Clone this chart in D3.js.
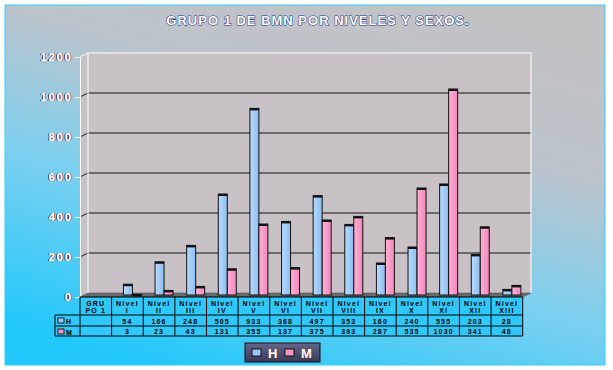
<!DOCTYPE html>
<html>
<head>
<meta charset="utf-8">
<script src="https://cdn.jsdelivr.net/npm/d3@7"></script>
<style>
  body { margin: 0; background: #fff; }
  svg { display: block; font-family: Arial, "Liberation Sans", sans-serif; }
</style>
</head>
<body>
<svg id="chart" width="613" height="370"></svg>
<script>
// Chart data
const categories = ["GRUPO 1", "Nivel I", "Nivel II", "Nivel III", "Nivel IV", "Nivel V", "Nivel VI",
  "Nivel VII", "Nivel VIII", "Nivel IX", "Nivel X", "Nivel XI", "Nivel XII", "Nivel XIII"];
const headerLines = [["GRU", "PO 1"], ["Nivel", "I"], ["Nivel", "II"], ["Nivel", "III"], ["Nivel", "IV"],
  ["Nivel", "V"], ["Nivel", "VI"], ["Nivel", "VII"], ["Nivel", "VIII"], ["Nivel", "IX"], ["Nivel", "X"],
  ["Nivel", "XI"], ["Nivel", "XII"], ["Nivel", "XIII"]];
const hValues = [null, 54, 166, 248, 505, 933, 368, 497, 353, 160, 240, 555, 203, 28];
const mValues = [null, 3, 23, 43, 131, 355, 137, 375, 393, 287, 535, 1030, 341, 48];
const yTicks = [0, 200, 400, 600, 800, 1000, 1200];
const seriesNames = ["H", "M"];
const title = "GRUPO 1 DE BMN POR NIVELES Y SEXOS.";

const colH = "#9cc8f6", colM = "#f896c6";

const svg = d3.select("#chart");
const defs = svg.append("defs");

// Background gradient (grey top-right to cyan bottom-left)
const bg = defs.append("linearGradient").attr("id", "bg")
  .attr("x1", "0.75").attr("y1", "0").attr("x2", "0.25").attr("y2", "1");
bg.append("stop").attr("offset", "0").attr("stop-color", "#c2c2c4");
bg.append("stop").attr("offset", "0.3").attr("stop-color", "#bcc4cc");
bg.append("stop").attr("offset", "0.62").attr("stop-color", "#7cd0f0");
bg.append("stop").attr("offset", "1").attr("stop-color", "#22c8fa");

const gH = defs.append("linearGradient").attr("id", "gH");
gH.append("stop").attr("offset", "0").attr("stop-color", "#b8dcff");
gH.append("stop").attr("offset", "1").attr("stop-color", "#8ebcee");
const gM = defs.append("linearGradient").attr("id", "gM");
gM.append("stop").attr("offset", "0").attr("stop-color", "#ffb0d6");
gM.append("stop").attr("offset", "1").attr("stop-color", "#f088ba");
const gL = defs.append("linearGradient").attr("id", "gL").attr("x2", "0").attr("y2", "1");
gL.append("stop").attr("offset", "0").attr("stop-color", "#66668c");
gL.append("stop").attr("offset", "1").attr("stop-color", "#383858");

// Two-coloured edge shadow for axis labels (blue left, orange right)
const sh = defs.append("filter").attr("id", "edge")
  .attr("x", "-10%").attr("y", "-10%").attr("width", "120%").attr("height", "120%");
sh.append("feFlood").attr("flood-color", "#2a3c9a").attr("result", "blue");
sh.append("feOffset").attr("in", "SourceAlpha").attr("dx", -1).attr("result", "offL");
sh.append("feComposite").attr("in", "blue").attr("in2", "offL").attr("operator", "in").attr("result", "shL");
sh.append("feFlood").attr("flood-color", "#d86a28").attr("result", "orange");
sh.append("feOffset").attr("in", "SourceAlpha").attr("dx", 1).attr("result", "offR");
sh.append("feComposite").attr("in", "orange").attr("in2", "offR").attr("operator", "in").attr("result", "shR");
const mg = sh.append("feMerge");
mg.append("feMergeNode").attr("in", "shL");
mg.append("feMergeNode").attr("in", "shR");
mg.append("feMergeNode").attr("in", "SourceGraphic");

svg.append("rect")
  .attr("x", 5).attr("y", 5).attr("width", 600).attr("height", 360)
  .attr("fill", "url(#bg)").attr("stroke", "#30d0ff").attr("stroke-width", 1);

// Title
svg.append("text")
  .attr("x", 318).attr("y", 25)
  .attr("text-anchor", "middle")
  .attr("font-size", 13).attr("font-weight", "bold")
  .attr("letter-spacing", 1)
  .attr("fill", "#fff").attr("stroke", "#24348a").attr("stroke-width", 1.1)
  .attr("paint-order", "stroke")
  .text(title);

// Scales
const x = d3.scaleBand().domain(categories).range([80, 522.7]).padding(0);
const y = d3.scaleLinear().domain([0, 1200]).range([297, 57]);

const dx = 8, dy = -4;       // wall depth offset
const bx = 5, by = -2;       // bar depth offset
const wallRight = 531;

// Back wall and side wall
svg.append("polygon")
  .attr("points", [[80, y(0)], [80, y(1200)], [80 + dx, y(1200) + dy], [wallRight, y(1200) + dy],
    [wallRight, y(0) + dy], [80 + dx, y(0) + dy]].join(" "))
  .attr("fill", "#c8c2c6");

// Floor
svg.append("polygon")
  .attr("points", [[80, y(0)], [522.7, y(0)], [wallRight, y(0) + dy], [80 + dx, y(0) + dy]].join(" "))
  .attr("fill", "#6a6a6a").attr("stroke", "#444").attr("stroke-width", 0.5);

// Gridlines
const grid = svg.append("g");
yTicks.filter(t => t > 0 && t < 1200).forEach(t => {
  grid.append("line")
    .attr("x1", 80 + dx).attr("x2", wallRight)
    .attr("y1", y(t) + dy).attr("y2", y(t) + dy)
    .attr("stroke", "#111").attr("stroke-width", 1);
  grid.append("line")
    .attr("x1", 80).attr("x2", 80 + dx)
    .attr("y1", y(t)).attr("y2", y(t) + dy)
    .attr("stroke", "#222").attr("stroke-width", 1);
});

// Wall edges (white)
svg.append("polyline")
  .attr("points", [[80 + dx, y(0) + dy], [80 + dx, y(1200) + dy], [wallRight, y(1200) + dy], [wallRight, y(0) + dy]].join(" "))
  .attr("fill", "none").attr("stroke", "#fff").attr("stroke-width", 1);
svg.append("line")
  .attr("x1", 80).attr("x2", 80 + dx).attr("y1", y(1200)).attr("y2", y(1200) + dy)
  .attr("stroke", "#fff");

// Y axis
const yAxis = svg.append("g")
  .attr("transform", "translate(80,0)")
  .call(d3.axisLeft(y).tickValues(yTicks).tickSize(5).tickFormat(""));
yAxis.selectAll("path, line").attr("stroke", "#fff");

svg.append("g").attr("font-size", 11).attr("font-weight", "bold")
  .attr("letter-spacing", 2).attr("text-anchor", "end")
  .selectAll("text").data(yTicks).enter().append("text")
  .attr("x", 73).attr("y", d => y(d) + 4)
  .attr("fill", "#fff").attr("filter", "url(#edge)")
  .text(d => d);

// Bars
const bw = 9;
const barData = [];
categories.forEach((c, i) => {
  if (hValues[i] != null) barData.push({ cat: c, s: "H", v: hValues[i] });
  if (mValues[i] != null) barData.push({ cat: c, s: "M", v: mValues[i] });
});
const bars = svg.append("g").selectAll("g").data(barData).enter().append("g");
bars.append("rect")
  .attr("x", d => x(d.cat) + x.bandwidth() / 2 + bx + (d.s === "H" ? -bw : 0))
  .attr("y", d => y(d.v) + by)
  .attr("width", bw)
  .attr("height", d => y(0) - y(d.v))
  .attr("fill", d => d.s === "H" ? "url(#gH)" : "url(#gM)")
  .attr("stroke", "#111").attr("stroke-width", 1);
bars.append("rect")
  .attr("x", d => x(d.cat) + x.bandwidth() / 2 + bx + (d.s === "H" ? -bw : 0))
  .attr("y", d => y(d.v) + by)
  .attr("width", bw)
  .attr("height", 2)
  .attr("fill", "#111");

// Data table
const tTop = 297, r1 = 315, r2 = 326, r3 = 336, tLeft = 55;
const table = svg.append("g");
table.append("rect")
  .attr("x", 80).attr("y", tTop).attr("width", 522.7 - 80).attr("height", r1 - tTop)
  .attr("fill", "#30c8fa");
table.append("rect")
  .attr("x", tLeft).attr("y", r1).attr("width", 522.7 - tLeft).attr("height", r3 - r1)
  .attr("fill", "#30c8fa");

const tl = (x1, y1, x2, y2) => table.append("line")
  .attr("x1", x1).attr("y1", y1).attr("x2", x2).attr("y2", y2)
  .attr("stroke", "#000").attr("stroke-width", 1);
tl(80, tTop, 522.7, tTop);
tl(tLeft, r1, 522.7, r1);
tl(tLeft, r2, 522.7, r2);
tl(tLeft, r3, 522.7, r3);
tl(tLeft, r1, tLeft, r3);
categories.forEach(c => tl(x(c), tTop, x(c), r3));
tl(522.7, tTop, 522.7, r3);

const tText = table.append("g").attr("font-size", 7).attr("font-weight", "bold")
  .attr("letter-spacing", 1.2).attr("text-anchor", "middle").attr("fill", "#000");
categories.forEach((c, i) => {
  const cx = x(c) + x.bandwidth() / 2;
  tText.append("text").attr("x", cx).attr("y", 306).text(headerLines[i][0]);
  tText.append("text").attr("x", cx).attr("y", 313).text(headerLines[i][1]);
  if (hValues[i] != null) tText.append("text").attr("x", cx).attr("y", 323.5).text(hValues[i]);
  if (mValues[i] != null) tText.append("text").attr("x", cx).attr("y", 334).text(mValues[i]);
});

// Row headers with keys
[[colH, "H", r1], [colM, "M", r2]].forEach(([col, name, ry]) => {
  table.append("rect").attr("x", 58).attr("y", ry + 3).attr("width", 6).attr("height", 5)
    .attr("fill", col).attr("stroke", "#000").attr("stroke-width", 0.8);
  table.append("text").attr("x", 66).attr("y", ry + 8.5)
    .attr("font-size", 7).attr("font-weight", "bold").attr("fill", "#000").text(name);
});

// Legend
const leg = svg.append("g");
leg.append("rect").attr("x", 245).attr("y", 343).attr("width", 75).attr("height", 19)
  .attr("fill", "url(#gL)").attr("stroke", "#111").attr("stroke-width", 1);
seriesNames.forEach((s, i) => {
  const lx = 252 + i * 33;
  leg.append("rect").attr("x", lx).attr("y", 349).attr("width", 9).attr("height", 7)
    .attr("fill", i === 0 ? colH : colM).attr("stroke", "#111").attr("stroke-width", 1);
  leg.append("text").attr("x", lx + 16).attr("y", 358)
    .attr("font-size", 13).attr("font-weight", "bold")
    .attr("fill", "#fff").attr("stroke", "#a04020").attr("stroke-width", 0.6)
    .attr("paint-order", "stroke").text(s);
});
</script>
</body>
</html>
